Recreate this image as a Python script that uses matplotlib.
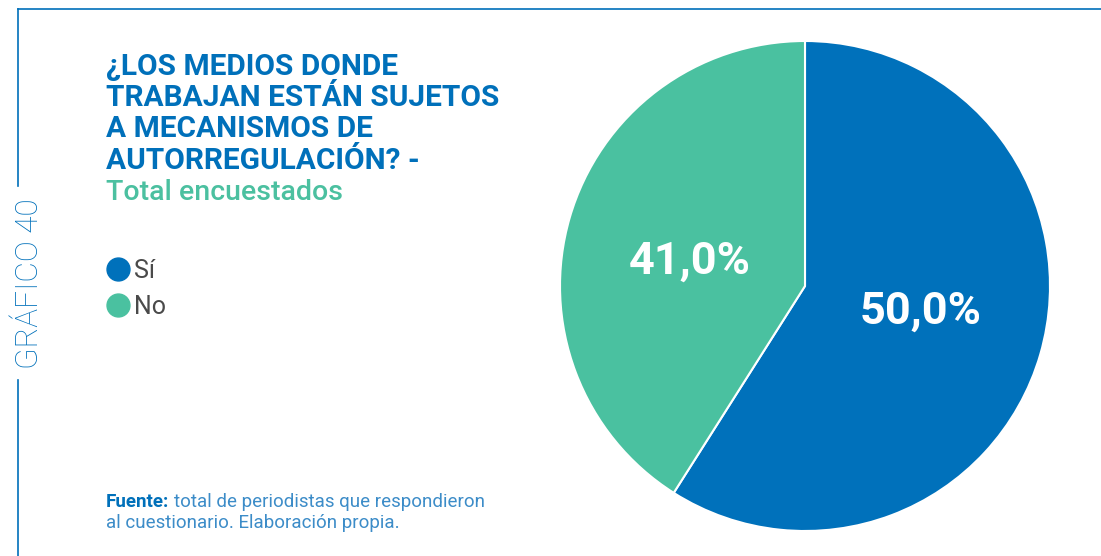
import numpy as np
import matplotlib.pyplot as plt
from matplotlib.lines import Line2D

# Data
categories = ['Sí', 'No']
slice_shares = [59.0, 41.0]          # share of the circle drawn for each slice
slice_labels = ['50,0%', '41,0%']    # labels printed on the slices
colors = ['#0071BB', '#4AC1A0']

title_lines = ['¿LOS MEDIOS DONDE', 'TRABAJAN ESTÁN SUJETOS',
               'A MECANISMOS DE', 'AUTORREGULACIÓN? -']
subtitle = 'Total encuestados'
side_label = 'GRÁFICO 40'
source_bold = 'Fuente:'
source_rest = ['total de periodistas que respondieron',
               'al cuestionario. Elaboración propia.']

blue = '#0070BA'
green = '#4BC0A0'
src_color = '#3C8CC8'

plt.rcParams['font.family'] = ['Roboto', 'DejaVu Sans']

W, H = 1101, 556
fig = plt.figure(figsize=(W / 100, H / 100), dpi=100)


def fx(px):
    return px / W


def fy(py):
    return 1 - py / H


# frame lines
fig.add_artist(Line2D([fx(18), 1], [fy(9), fy(9)], color=blue, lw=1.2))
fig.add_artist(Line2D([fx(18), fx(18)], [fy(9), fy(186)], color=blue, lw=1.2))
fig.add_artist(Line2D([fx(18), fx(18)], [fy(380), 0], color=blue, lw=1.2))
fig.text(fx(30), fy(284), side_label, rotation=90, ha='center', va='center',
         color=blue, fontsize=22.7, fontweight='light')

# title
for i, line in enumerate(title_lines):
    fig.text(fx(106), fy(75 + 31.2 * i), line, color=blue, fontsize=21.5,
             fontweight='bold', va='baseline')
fig.text(fx(106), fy(75 + 31.2 * 4), subtitle, color=green, fontsize=20.5,
         fontweight='medium', va='baseline')

# legend
for i, (cat, c) in enumerate(zip(categories, colors)):
    ypix = 269 + 36 * i
    fig.add_artist(Line2D([fx(118)], [fy(ypix)], marker='o', markersize=16.5,
                          color=c, ls=''))
    fig.text(fx(134), fy(ypix), cat, color='#4A4A4A', fontsize=18,
             va='center_baseline')

# source
t = fig.text(fx(106), fy(507), source_bold, color=blue, fontsize=13.5,
             fontweight='bold', va='baseline')
fig.canvas.draw()
bold_w = t.get_window_extent().width
fig.text(fx(106 + bold_w + 5), fy(507), source_rest[0],
         color=src_color, fontsize=13.5, va='baseline')
fig.text(fx(106), fy(528), source_rest[1],
         color=src_color, fontsize=13.5, va='baseline')

# pie
cx, cy, r = 805, 286, 245
ax = fig.add_axes([fx(cx - r), fy(cy + r), 2 * r / W, 2 * r / H])
wedges, texts = ax.pie(slice_shares, colors=colors, startangle=90,
                       counterclock=False, radius=1,
                       wedgeprops=dict(edgecolor='white', linewidth=1.5))
for w, lab in zip(wedges, slice_labels):
    ang = np.deg2rad((w.theta1 + w.theta2) / 2)
    ax.text(0.49 * np.cos(ang), 0.49 * 0.75 * np.sin(ang) + 0.015, lab,
            ha='center', va='center_baseline', color='white', fontsize=32.5,
            fontweight='bold')
ax.set_xlim(-1, 1)
ax.set_ylim(-1, 1)
ax.set_aspect('equal')
ax.axis('off')

fig.savefig('out.png', dpi=100)
